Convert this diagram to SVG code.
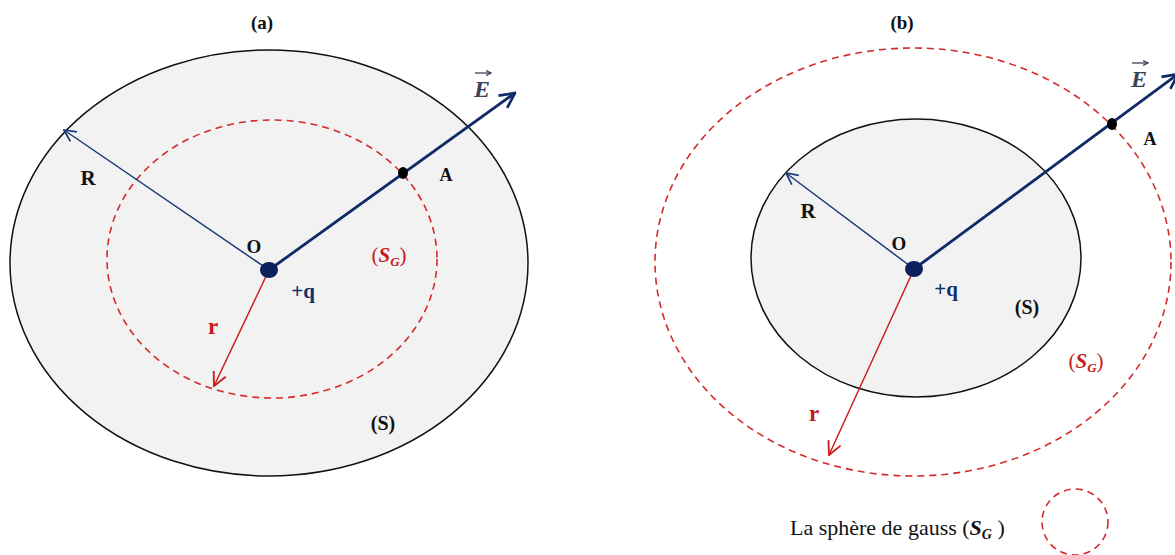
<svg xmlns="http://www.w3.org/2000/svg" width="1175" height="555" viewBox="0 0 1175 555">
<style>
  .sphere { fill: #f2f2f2; stroke: #111; stroke-width: 1.5; }
  .gauss { fill: none; stroke: #d42a2a; stroke-width: 1.6; stroke-dasharray: 7 5; }
  .navy-thin { stroke: #1b3a7a; stroke-width: 1.5; fill: none; }
  .navy-thick { stroke: #0f2a66; stroke-width: 2.8; fill: none; }
  .red-line { stroke: #cc1f1f; stroke-width: 1.5; fill: none; }
  .lbl { font-family: "Liberation Serif", "Times New Roman", serif; font-weight: bold; fill: #111; }
  .navy-t { fill: #13306e; }
  .red-t { fill: #c41a1a; }
  .vec { font-family: "Liberation Serif", "Times New Roman", serif; font-style: italic; font-weight: bold; fill: #3a4258; }
  .leg { font-family: "Liberation Serif", "Times New Roman", serif; fill: #111; }
</style>
<defs>
  <marker id="arrNavyThick" viewBox="0 0 12 12" refX="11" refY="6" markerWidth="18" markerHeight="18" markerUnits="userSpaceOnUse" orient="auto">
    <path d="M1,1 L11,6 L1,11" fill="none" stroke="#0f2a66" stroke-width="1.8"/>
  </marker>
  <marker id="arrNavyThin" viewBox="0 0 12 12" refX="11" refY="6" markerWidth="14" markerHeight="14" markerUnits="userSpaceOnUse" orient="auto">
    <path d="M1,1 L11,6 L1,11" fill="none" stroke="#1b3a7a" stroke-width="1.5"/>
  </marker>
  <marker id="arrRed" viewBox="0 0 12 12" refX="11" refY="6" markerWidth="16" markerHeight="16" markerUnits="userSpaceOnUse" orient="auto">
    <path d="M1,1 L11,6 L1,11" fill="none" stroke="#cc1f1f" stroke-width="1.4"/>
  </marker>
  <marker id="arrVec" viewBox="0 0 12 12" refX="11" refY="6" markerWidth="6" markerHeight="6" markerUnits="userSpaceOnUse" orient="auto">
    <path d="M1,1 L11,6 L1,11" fill="none" stroke="#3a4258" stroke-width="2.5"/>
  </marker>
</defs>

<!-- Panel (a) -->
<g id="a-sphere"><ellipse class="sphere" cx="269" cy="263" rx="259" ry="213"/></g>
<g id="a-gauss"><ellipse class="gauss" cx="272" cy="259" rx="165" ry="139"/></g>

<!-- Panel (b) -->
<g id="b-gauss"><ellipse class="gauss" cx="913" cy="262" rx="258" ry="214"/></g>
<g id="b-sphere"><ellipse class="sphere" cx="916" cy="258" rx="165" ry="139"/></g>

<g id="connectors">
  <line class="navy-thin" x1="269" y1="270" x2="64" y2="130" marker-end="url(#arrNavyThin)"/>
  <line class="navy-thick" x1="269" y1="270" x2="515" y2="93" marker-end="url(#arrNavyThick)"/>
  <line class="red-line" x1="269" y1="270" x2="214" y2="386" marker-end="url(#arrRed)"/>

  <line class="navy-thin" x1="914" y1="269" x2="786" y2="173" marker-end="url(#arrNavyThin)"/>
  <line class="navy-thick" x1="914" y1="269" x2="1178" y2="74" marker-end="url(#arrNavyThick)"/>
  <line class="red-line" x1="914" y1="269" x2="829" y2="455" marker-end="url(#arrRed)"/>
</g>

<g id="a-center"><ellipse cx="269" cy="270" rx="9" ry="8" fill="#0a1f5c"/></g>
<g id="a-point-A"><ellipse cx="403" cy="173" rx="5" ry="6" fill="#000"/></g>
<g id="b-center"><ellipse cx="914" cy="269" rx="9" ry="8" fill="#0a1f5c"/></g>
<g id="b-point-A"><ellipse cx="1112" cy="124" rx="5" ry="6" fill="#000"/></g>

<g id="a-labels">
  <text class="lbl" x="262" y="29" font-size="19" text-anchor="middle">(a)</text>
  <text class="lbl" x="88" y="185" font-size="21" text-anchor="middle">R</text>
  <text class="lbl" x="254" y="253" font-size="19" text-anchor="middle">O</text>
  <text class="lbl" x="446" y="181" font-size="18" text-anchor="middle">A</text>
  <text class="lbl navy-t" x="303" y="298" font-size="21" text-anchor="middle">+q</text>
  <text class="lbl red-t" x="213" y="334" font-size="23" text-anchor="middle">r</text>
  <text class="lbl red-t" x="389" y="262" font-size="21" text-anchor="middle"><tspan font-weight="normal">(</tspan><tspan font-style="italic">S</tspan><tspan font-style="italic" font-size="13" dy="4">G</tspan><tspan font-weight="normal" dy="-4">)</tspan></text>
  <text class="lbl" x="383" y="430" font-size="20" text-anchor="middle">(S)</text>
  <text class="vec" x="482" y="97" font-size="24" text-anchor="middle">E</text>
  <line x1="475" y1="73" x2="491" y2="73" stroke="#3a4258" stroke-width="1.3" marker-end="url(#arrVec)"/>
</g>

<g id="b-labels">
  <text class="lbl" x="902" y="29" font-size="19" text-anchor="middle">(b)</text>
  <text class="lbl" x="808" y="218" font-size="21" text-anchor="middle">R</text>
  <text class="lbl" x="899" y="250" font-size="19" text-anchor="middle">O</text>
  <text class="lbl" x="1150" y="145" font-size="18" text-anchor="middle">A</text>
  <text class="lbl navy-t" x="946" y="296" font-size="21" text-anchor="middle">+q</text>
  <text class="lbl" x="1027" y="314" font-size="20" text-anchor="middle">(S)</text>
  <text class="lbl red-t" x="1086" y="368" font-size="21" text-anchor="middle"><tspan font-weight="normal">(</tspan><tspan font-style="italic">S</tspan><tspan font-style="italic" font-size="13" dy="4">G</tspan><tspan font-weight="normal" dy="-4">)</tspan></text>
  <text class="lbl red-t" x="814" y="421" font-size="23" text-anchor="middle">r</text>
  <text class="vec" x="1139" y="87" font-size="24" text-anchor="middle">E</text>
  <line x1="1132" y1="63" x2="1148" y2="63" stroke="#3a4258" stroke-width="1.3" marker-end="url(#arrVec)"/>
</g>

<g id="legend">
  <text class="leg" x="790" y="535" font-size="22">La sphère de gauss (<tspan font-weight="bold" font-style="italic">S</tspan><tspan font-weight="bold" font-style="italic" font-size="14" dy="4">G</tspan><tspan dy="-4"> )</tspan></text>
  <circle class="gauss" cx="1075" cy="522" r="33"/>
</g>
</svg>
